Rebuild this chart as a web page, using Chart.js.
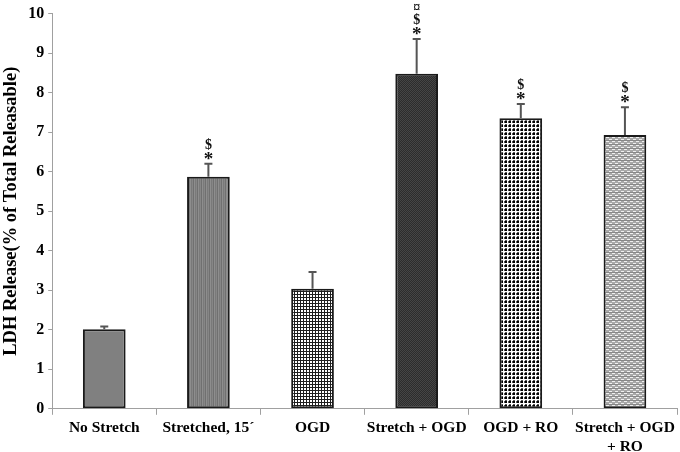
<!DOCTYPE html>
<html>
<head>
<meta charset="utf-8">
<script src="https://cdn.jsdelivr.net/npm/chart.js@4"></script>
<style>
  html, body { margin: 0; padding: 0; background: #fff; }
  #wrap { width: 680px; height: 452px; }
</style>
</head>
<body>
<div id="wrap"><canvas id="myChart"></canvas></div>
<script>
const categories = ["No Stretch", "Stretched, 15\u00b4", "OGD", "Stretch + OGD", "OGD + RO", ["Stretch + OGD", "+ RO"]];
const ldhValues = [2.01, 5.87, 3.04, 8.48, 7.35, 6.93];
const errValues = [0.07, 0.33, 0.42, 0.88, 0.36, 0.70];
const marks = [[], ["*", "$"], [], ["*", "$", "\u00a4"], ["*", "$"], ["*", "$"]];
const yTicks = [0, 1, 2, 3, 4, 5, 6, 7, 8, 9, 10];

// little tiles for the bar fills
function tile(w, h, draw) {
  const c = document.createElement("canvas");
  c.width = w; c.height = h;
  const g = c.getContext("2d");
  draw(g);
  return document.getElementById("myChart").getContext("2d").createPattern(c, "repeat");
}
function px(g, col, x, y, w, h) { g.fillStyle = col; g.fillRect(x, y, w || 1, h || 1); }

const fills = [
  "#808080",
  tile(4, 2, g => { px(g, "#868686", 0, 0, 1, 2); px(g, "#707070", 1, 0, 1, 2); px(g, "#8e8e8e", 2, 0, 1, 2); px(g, "#7a7a7a", 3, 0, 1, 2); }),
  tile(3, 3, g => { px(g, "#ffffff", 0, 0, 3, 3); px(g, "#1e1e1e", 0, 0, 3, 1); px(g, "#1e1e1e", 0, 0, 1, 3); }),
  tile(2, 2, g => { px(g, "#2c2c2c", 0, 0, 2, 2); px(g, "#454545", 0, 0); px(g, "#454545", 1, 1); }),
  tile(4, 4, g => { px(g, "#ffffff", 0, 0, 4, 4); px(g, "#000000", 1, 1, 2, 2); px(g, "#555555", 0, 1, 1, 2); px(g, "#555555", 1, 0, 2, 1); }),
  tile(6, 4, g => { px(g, "#a8a8a8", 0, 0, 6, 4); px(g, "#f0f0f0", 0, 1, 3, 1); px(g, "#f0f0f0", 3, 3, 3, 1); px(g, "#888888", 0, 0, 6, 1); })
];

const serif = "'Liberation Serif', 'Times New Roman', serif";

const errorBars = {
  id: "errorBars",
  afterDatasetsDraw(chart) {
    const ctx = chart.ctx;
    const meta = chart.getDatasetMeta(0);
    const y = chart.scales.y;
    ctx.save();
    meta.data.forEach((bar, i) => {
      const top = y.getPixelForValue(ldhValues[i] + errValues[i]);
      const base = y.getPixelForValue(ldhValues[i]);
      ctx.strokeStyle = "#555";
      ctx.lineWidth = 2;
      ctx.beginPath();
      ctx.moveTo(bar.x, base);
      ctx.lineTo(bar.x, top);
      ctx.moveTo(bar.x - 4, top);
      ctx.lineTo(bar.x + 4, top);
      ctx.stroke();
      ctx.fillStyle = "#111";
      ctx.textAlign = "center";
      ctx.textBaseline = "middle";
      marks[i].forEach((m, k) => {
        const cy = top - 8 - k * 12.5;
        if (m === "*") {
          ctx.font = "bold 19px " + serif;
          ctx.fillText(m, bar.x, cy + 4);
        } else {
          ctx.font = "bold 14px " + serif;
          ctx.fillText(m, bar.x, cy + 2);
        }
      });
    });
    ctx.restore();
  }
};

new Chart(document.getElementById("myChart").getContext("2d"), {
  type: "bar",
  data: {
    labels: categories,
    datasets: [{
      label: "LDH Release",
      data: ldhValues,
      backgroundColor: fills,
      borderColor: "#1a1a1a",
      borderWidth: 2,
      borderSkipped: false,
      barPercentage: 0.41,
      categoryPercentage: 1
    }]
  },
  options: {
    responsive: true,
    maintainAspectRatio: false,
    animation: false,
    layout: { padding: { top: 9, right: 3, left: 0, bottom: -8 } },
    plugins: {
      legend: { display: false },
      tooltip: { enabled: false }
    },
    scales: {
      x: {
        offset: true,
        grid: { offset: true, drawOnChartArea: false, drawTicks: true, tickLength: 6, color: "#a0a0a0", lineWidth: 1 },
        border: { color: "#a0a0a0", width: 1 },
        ticks: { color: "#000", font: { family: serif, size: 15.5, weight: "bold" }, padding: 4, maxRotation: 0, autoSkip: false }
      },
      y: {
        min: 0,
        max: 10,
        afterBuildTicks: axis => { axis.ticks = yTicks.map(v => ({ value: v })); },
        grid: { drawOnChartArea: false, drawTicks: true, tickLength: 4, color: "#a0a0a0" },
        border: { color: "#a0a0a0", width: 1 },
        title: { display: true, text: "LDH Release(% of Total Releasable)", color: "#000", font: { family: serif, size: 18.5, weight: "bold" }, padding: { top: 0, bottom: 2 } },
        ticks: { color: "#000", font: { family: serif, size: 16, weight: "bold" }, padding: 4 }
      }
    }
  },
  plugins: [errorBars]
});
</script>
</body>
</html>
